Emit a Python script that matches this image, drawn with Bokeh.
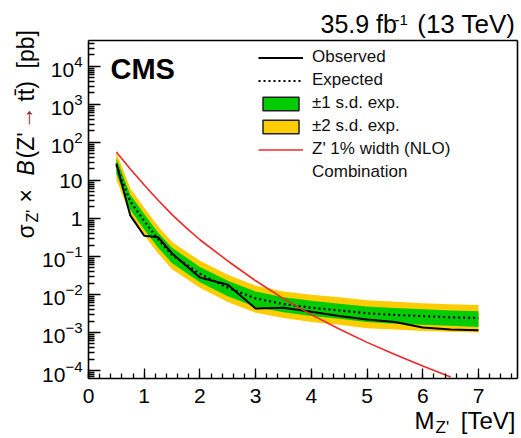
import math
from bokeh.plotting import figure
from bokeh.models import (Range1d, FixedTicker, Label, Legend, LegendItem,
                          CustomJSTickFormatter, LinearAxis, LogAxis)
from bokeh.embed import file_html
from bokeh.resources import INLINE

# ---------------- data ----------------
mass = [0.5, 0.75, 1.0, 1.25, 1.5, 2.0, 2.5, 3.0, 3.5, 4.0, 4.5, 5.0, 5.5, 6.0, 6.5, 7.0]
observed = [28, 1.2, 0.35, 0.32, 0.12, 0.028, 0.018, 0.0043, 0.0045, 0.0035,
            0.0027, 0.0022, 0.0019, 0.00135, 0.0012, 0.00115]
expected = [25, 2.8, 0.85, 0.28, 0.11, 0.035, 0.015, 0.0079, 0.0056, 0.0045,
            0.0038, 0.0032, 0.0029, 0.0027, 0.0025, 0.0024]
exp_m1 = [15, 1.7, 0.51, 0.17, 0.066, 0.021, 0.0090, 0.0047, 0.0034, 0.0027,
          0.0023, 0.0019, 0.0017, 0.0016, 0.0015, 0.0014]
exp_p1 = [38, 4.2, 1.3, 0.42, 0.17, 0.053, 0.023, 0.012, 0.0085, 0.0068,
          0.0057, 0.0048, 0.0044, 0.0041, 0.0038, 0.0036]
exp_m2 = [10.5, 1.2, 0.36, 0.12, 0.046, 0.015, 0.0063, 0.0033, 0.0024, 0.0019,
          0.0016, 0.0013, 0.0012, 0.0011, 0.00105, 0.0010]
exp_p2 = [55, 6.2, 1.9, 0.62, 0.24, 0.077, 0.033, 0.017, 0.012, 0.0099,
          0.0084, 0.0070, 0.0064, 0.0059, 0.0055, 0.0053]
zp_mass = [0.5, 0.75, 1.0, 1.25, 1.5, 1.75, 2.0, 2.5, 3.0, 3.5, 4.0, 4.5,
           5.0, 5.5, 6.0, 6.5]
zp_xsec = [56, 20, 7.6, 3.0, 1.26, 0.575, 0.275, 0.076, 0.0229, 0.0078, 0.00295,
           0.00123, 0.00055, 0.000263, 0.000132, 0.0000676]
x_ticks = [0, 1, 2, 3, 4, 5, 6, 7]
y_tick_exps = [4, 3, 2, 1, 0, -1, -2, -3, -4]
legend_labels = ["Observed", "Expected", "\u00b11 s.d. exp.", "\u00b12 s.d. exp.",
                 "Z' 1% width (NLO)", "Combination"]

# ---------------- layout ----------------
W, H = 521, 438
FX0, FX1, FY0, FY1 = 88, 517, 40, 378      # inner plotting box (page px)
XMAX = 7.7
YLOG_TOP, YLOG_BOT = 4.68, -4.21
FONT = "Liberation Sans"


def X(px):
    return (px - FX0) / (FX1 - FX0) * XMAX


def Y(py):
    return 10 ** (YLOG_TOP - (py - FY0) / (FY1 - FY0) * (YLOG_TOP - YLOG_BOT))


p = figure(width=W, height=H, output_backend="svg", toolbar_location=None,
           y_axis_type="log", x_axis_location=None, y_axis_location=None,
           x_range=Range1d(X(0), X(W)), y_range=Range1d(Y(H), Y(0)),
           min_border=0)
p.background_fill_color = "white"
p.border_fill_color = "white"
p.outline_line_color = None
p.grid.visible = False


def nolab():
    return dict(major_label_text_font_size="0px", major_label_standoff=0,
                formatter=CustomJSTickFormatter(code="return ''"))


# bottom axis
xax = LinearAxis(fixed_location=10 ** YLOG_BOT, bounds=(0, XMAX),
                 ticker=FixedTicker(ticks=x_ticks,
                                    minor_ticks=[round(i * 0.2, 2) for i in range(0, 39)]),
                 major_tick_in=10, major_tick_out=0, minor_tick_in=5, minor_tick_out=0,
                 axis_line_width=1.6, major_tick_line_width=1.3,
                 minor_tick_line_width=1.3, **nolab())
p.add_layout(xax, "below")

# left axis
y_major = [10.0 ** e for e in y_tick_exps]
y_minor = [k * 10.0 ** e for e in range(-5, 5) for k in range(2, 10)
           if YLOG_BOT < e + math.log10(k) < YLOG_TOP]
yax = LogAxis(fixed_location=0, bounds=(10 ** YLOG_BOT, 10 ** YLOG_TOP),
              ticker=FixedTicker(ticks=y_major, minor_ticks=y_minor),
              major_tick_in=12, major_tick_out=0, minor_tick_in=6, minor_tick_out=0,
              axis_line_width=1.6, major_tick_line_width=1.3,
              minor_tick_line_width=1.3, **nolab())
p.add_layout(yax, "left")

# top and right frame lines
tax = LinearAxis(fixed_location=10 ** YLOG_TOP, bounds=(0, XMAX),
                 ticker=FixedTicker(ticks=[]), major_tick_in=0, major_tick_out=0,
                 minor_tick_in=0, minor_tick_out=0, axis_line_width=1.6, **nolab())
p.add_layout(tax, "above")
rax = LogAxis(fixed_location=XMAX, bounds=(10 ** YLOG_BOT, 10 ** YLOG_TOP),
              ticker=FixedTicker(ticks=[]), major_tick_in=0, major_tick_out=0,
              minor_tick_in=0, minor_tick_out=0, axis_line_width=1.6, **nolab())
p.add_layout(rax, "right")

# ---------------- data glyphs ----------------
p.varea(x=mass, y1=exp_m2, y2=exp_p2, fill_color="#ffcc00")
p.varea(x=mass, y1=exp_m1, y2=exp_p1, fill_color="#00cc00")
r_exp = p.line(mass, expected, line_color="black", line_width=2.2, line_dash="2 3")
r_obs = p.line(mass, observed, line_color="black", line_width=2)
r_zp = p.line(zp_mass, zp_xsec, line_color="#f02828", line_width=1.6)

# legend-only sample renderers (no visible data)
NAN = float("nan")
r_g = p.quad(left=[NAN], right=[NAN], top=[NAN], bottom=[NAN], fill_color="#00cc00",
             line_color="#202020", line_width=1.5)
r_y = p.quad(left=[NAN], right=[NAN], top=[NAN], bottom=[NAN], fill_color="#ffcc00",
             line_color="#202020", line_width=1.5)
r_none = p.line(x=[NAN], y=[NAN], line_alpha=0)

legend = Legend(items=[
    LegendItem(label=legend_labels[0], renderers=[r_obs]),
    LegendItem(label=legend_labels[1], renderers=[r_exp]),
    LegendItem(label=legend_labels[2], renderers=[r_g]),
    LegendItem(label=legend_labels[3], renderers=[r_y]),
    LegendItem(label=legend_labels[4], renderers=[r_zp]),
    LegendItem(label=legend_labels[5], renderers=[r_none]),
], location=(258, 256))
legend.padding = 0
legend.margin = 0
legend.border_line_color = None
legend.background_fill_alpha = 0
legend.glyph_width = 45
legend.glyph_height = 17
legend.label_height = 20
legend.label_standoff = 9
legend.spacing = 3
legend.label_text_font = FONT
legend.label_text_font_size = "17px"
legend.label_text_color = "#111111"
p.add_layout(legend)


# ---------------- texts ----------------
def lab(x, y, text, size, align="left", angle=0.0, style="normal",
        color="black", xo=0, yo=0):
    p.add_layout(Label(x=x, y=y, text=text, text_font=FONT,
                       text_font_size=f"{size}px", text_align=align,
                       text_baseline="middle", angle=angle,
                       text_font_style=style, text_color=color,
                       x_offset=xo, y_offset=yo))


# x tick labels
for t in x_ticks:
    lab(t, 10 ** YLOG_BOT, str(t), 21, align="center", yo=-17)

# y tick labels: 10 with superscript exponents
RX = 82
for e in y_tick_exps:
    yv = 10.0 ** e
    if e == 1:
        lab(X(RX), yv, "10", 21, align="right", yo=-1)
    elif e == 0:
        lab(X(RX), yv, "1", 21, align="right", yo=-1)
    else:
        sup = str(e).replace("-", "\u2212")
        wsup = 8.3 * len(str(abs(e))) + (8.8 if e < 0 else 0)
        lab(X(RX), yv, sup, 15, align="right", yo=4)
        lab(X(RX - wsup), yv, "10", 21, align="right", yo=-4)

# CMS
lab(X(110), Y(68), "CMS", 29, style="bold")

# luminosity text
lab(X(320), Y(23.5), "35.9 fb", 25)
lab(X(394), Y(19), "-1", 15)
lab(X(515), Y(23.5), "(13 TeV)", 26, align="right")

# x axis title
lab(X(515), Y(419.6), "[TeV]", 24, align="right")
lab(X(435), Y(427), "Z'", 17)
lab(X(434), Y(419.6), "M", 24, align="right")

# y axis title (rotated, reading upwards)
A = math.pi / 2
CX = 25
lab(X(CX), Y(238), "\u03c3", 23, angle=A)
lab(X(CX + 7), Y(222), "Z'", 16, angle=A)
lab(X(CX), Y(202), "\u00d7", 23, angle=A)
lab(X(CX), Y(175), "B", 23, angle=A, style="italic")
lab(X(CX), Y(158), "(Z'", 23, angle=A)
lab(X(CX - 1), Y(129), "\u2192", 23, angle=A, color="#8a2a2a")
lab(X(CX), Y(101), "tt\u0304)", 23, angle=A)
lab(X(CX), Y(68), "[pb]", 23, angle=A)

open("out.html", "w").write(file_html(p, INLINE))
